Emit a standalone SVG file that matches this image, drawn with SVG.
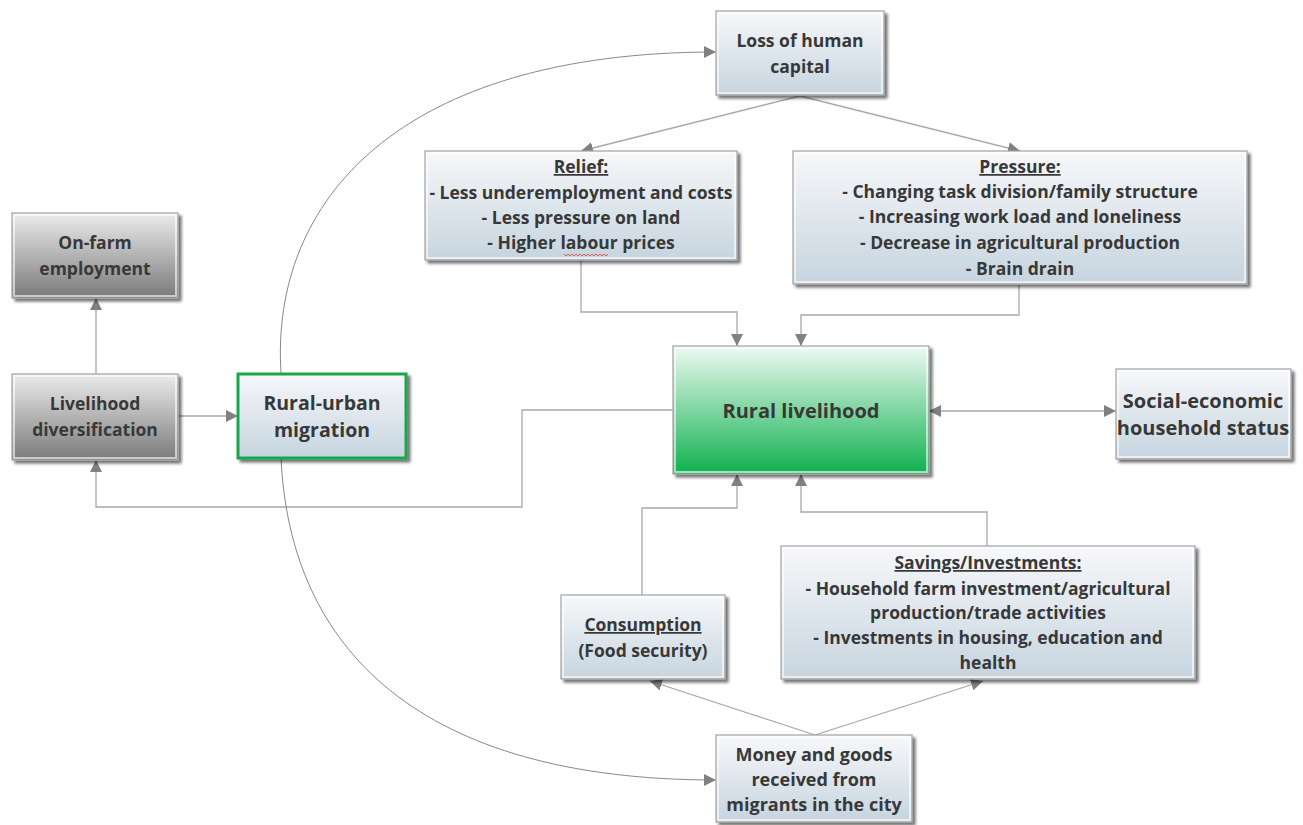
<svg xmlns="http://www.w3.org/2000/svg" width="1303" height="825" viewBox="0 0 1303 825">
<defs>
<linearGradient id="gBlue" x1="0" y1="0" x2="0" y2="1">
<stop offset="0" stop-color="#f7f8fa"/>
<stop offset="1" stop-color="#c6d4df"/>
</linearGradient>
<linearGradient id="gGray" x1="0" y1="0" x2="0" y2="1">
<stop offset="0" stop-color="#ececec"/>
<stop offset="1" stop-color="#7a7a7a"/>
</linearGradient>
<linearGradient id="gGreen" x1="0" y1="0" x2="0" y2="1">
<stop offset="0" stop-color="#eefaf2"/>
<stop offset="1" stop-color="#0fb14f"/>
</linearGradient>
<filter id="sh" x="-10%" y="-10%" width="125%" height="130%">
<feGaussianBlur in="SourceAlpha" stdDeviation="1.5"/>
<feOffset dx="3" dy="3" result="b"/>
<feComponentTransfer><feFuncA type="linear" slope="0.55"/></feComponentTransfer>
<feMerge><feMergeNode/><feMergeNode in="SourceGraphic"/></feMerge>
</filter>
<marker id="arr" markerUnits="userSpaceOnUse" markerWidth="14" markerHeight="12" refX="12" refY="6" orient="auto-start-reverse">
<path d="M0,0 L12,6 L0,12 z" fill="#808080"/>
</marker>
</defs>
<style>
.box{stroke:#a3a3a3;stroke-width:1.2;filter:url(#sh)}
.inner{fill:none;stroke:#ffffff;stroke-opacity:0.6;stroke-width:2}
.blue{fill:url(#gBlue)}
.gray{fill:url(#gGray)}
.green{fill:url(#gGreen)}
text{font-family:"Open Sans","Noto Sans","DejaVu Sans",sans-serif;font-weight:700;fill:#383838;text-anchor:middle}
.t16{font-size:17.5px}
.t18{font-size:18px}
.t19{font-size:19.5px}
.t20{font-size:20px}
.conn{fill:none;stroke:#a8a8a8;stroke-width:1.3}
.curve{fill:none;stroke:#7a7a7a;stroke-width:0.9}
</style>

<g id="connectors">
<path class="conn" d="M800,96 L581,151" marker-end="url(#arr)"/>
<path class="conn" d="M800,96 L1020,151" marker-end="url(#arr)"/>
<path class="conn" d="M581,260 V312 H737 V346" marker-end="url(#arr)"/>
<path class="conn" d="M1019,285 V315 H801 V346" marker-end="url(#arr)"/>
<path class="conn" d="M929,411 H1116" marker-start="url(#arr)" marker-end="url(#arr)"/>
<path class="conn" d="M673,410 H522 V507 H96 V460" marker-end="url(#arr)"/>
<path class="conn" d="M96,374 V298" marker-end="url(#arr)"/>
<path class="conn" d="M178,416 H238" marker-end="url(#arr)"/>
<path class="conn" d="M642,595 V508 H737 V474" marker-end="url(#arr)"/>
<path class="conn" d="M987,546 V512 H801 V474" marker-end="url(#arr)"/>
<path class="conn" d="M815,735 L650,681" marker-end="url(#arr)"/>
<path class="conn" d="M815,735 L983,681" marker-end="url(#arr)"/>
<path class="curve" d="M281,373 C270,200 400,52 716,52" marker-end="url(#arr)"/>
<path class="curve" d="M281,458 C290,650 420,780 716,780" marker-end="url(#arr)"/>
</g>

<g id="loss-human-capital">
<rect class="box blue" x="716" y="11" width="168" height="84"/>
<rect class="inner" x="718" y="13" width="164" height="80"/>
<text class="t16" x="800" y="47">Loss of human</text>
<text class="t16" x="800" y="73">capital</text>
</g>

<g id="relief">
<rect class="box blue" x="425" y="151" width="312" height="109"/>
<rect class="inner" x="427" y="153" width="308" height="105"/>
<text class="t16" x="581" y="173" text-decoration="underline">Relief:</text>
<text class="t16" x="581" y="199">- Less underemployment and costs</text>
<text class="t16" x="581" y="224">- Less pressure on land</text>
<text class="t16" x="581" y="249">- Higher labour prices</text>
<path d="M564,254 l2,2 l2,-2 l2,2 l2,-2 l2,2 l2,-2 l2,2 l2,-2 l2,2 l2,-2 l2,2 l2,-2 l2,2 l2,-2 l2,2 l2,-2 l2,2 l2,-2 l2,2 l2,-2 l2,2 l2,-2" fill="none" stroke="#e04040" stroke-width="0.8"/>
</g>

<g id="pressure">
<rect class="box blue" x="793" y="151" width="454" height="133"/>
<rect class="inner" x="795" y="153" width="450" height="129"/>
<text class="t16" x="1020" y="173" text-decoration="underline">Pressure:</text>
<text class="t16" x="1020" y="198">- Changing task division/family structure</text>
<text class="t16" x="1020" y="223">- Increasing work load and loneliness</text>
<text class="t16" x="1020" y="249">- Decrease in agricultural production</text>
<text class="t16" x="1020" y="275">- Brain drain</text>
</g>

<g id="on-farm-employment">
<rect class="box gray" x="12" y="213" width="166" height="85"/>
<rect class="inner" x="14" y="215" width="162" height="81"/>
<text class="t16" x="95" y="249">On-farm</text>
<text class="t16" x="95" y="275">employment</text>
</g>

<g id="livelihood-diversification">
<rect class="box gray" x="12" y="374" width="166" height="86"/>
<rect class="inner" x="14" y="376" width="162" height="82"/>
<text class="t16" x="95" y="410">Livelihood</text>
<text class="t16" x="95" y="436">diversification</text>
</g>

<g id="rural-urban-migration">
<rect class="box blue" x="238" y="374" width="168" height="84" style="stroke:#19a84a;stroke-width:3"/>
<text class="t19" x="322" y="410">Rural-urban</text>
<text class="t19" x="322" y="437">migration</text>
</g>

<g id="rural-livelihood">
<rect class="box green" x="673" y="346" width="256" height="128"/>
<rect class="inner" x="675" y="348" width="252" height="124"/>
<text class="t20" x="801" y="418">Rural livelihood</text>
</g>

<g id="social-economic-status">
<rect class="box blue" x="1116" y="369" width="175" height="90"/>
<rect class="inner" x="1118" y="371" width="171" height="86"/>
<text class="t20" x="1203" y="408">Social-economic</text>
<text class="t20" x="1203" y="435">household status</text>
</g>

<g id="consumption">
<rect class="box blue" x="561" y="595" width="164" height="84"/>
<rect class="inner" x="563" y="597" width="160" height="80"/>
<text class="t16" x="643" y="631" text-decoration="underline">Consumption</text>
<text class="t16" x="643" y="657">(Food security)</text>
</g>

<g id="savings-investments">
<rect class="box blue" x="781" y="546" width="414" height="133"/>
<rect class="inner" x="783" y="548" width="410" height="129"/>
<text class="t16" x="988" y="569" text-decoration="underline">Savings/Investments:</text>
<text class="t16" x="988" y="595">- Household farm investment/agricultural</text>
<text class="t16" x="988" y="619">production/trade activities</text>
<text class="t16" x="988" y="644">- Investments in housing, education and</text>
<text class="t16" x="988" y="669">health</text>
</g>

<g id="money-goods">
<rect class="box blue" x="716" y="735" width="196" height="87"/>
<rect class="inner" x="718" y="737" width="192" height="83"/>
<text class="t18" x="814" y="761">Money and goods</text>
<text class="t18" x="814" y="786">received from</text>
<text class="t18" x="814" y="811">migrants in the city</text>
</g>
</svg>
